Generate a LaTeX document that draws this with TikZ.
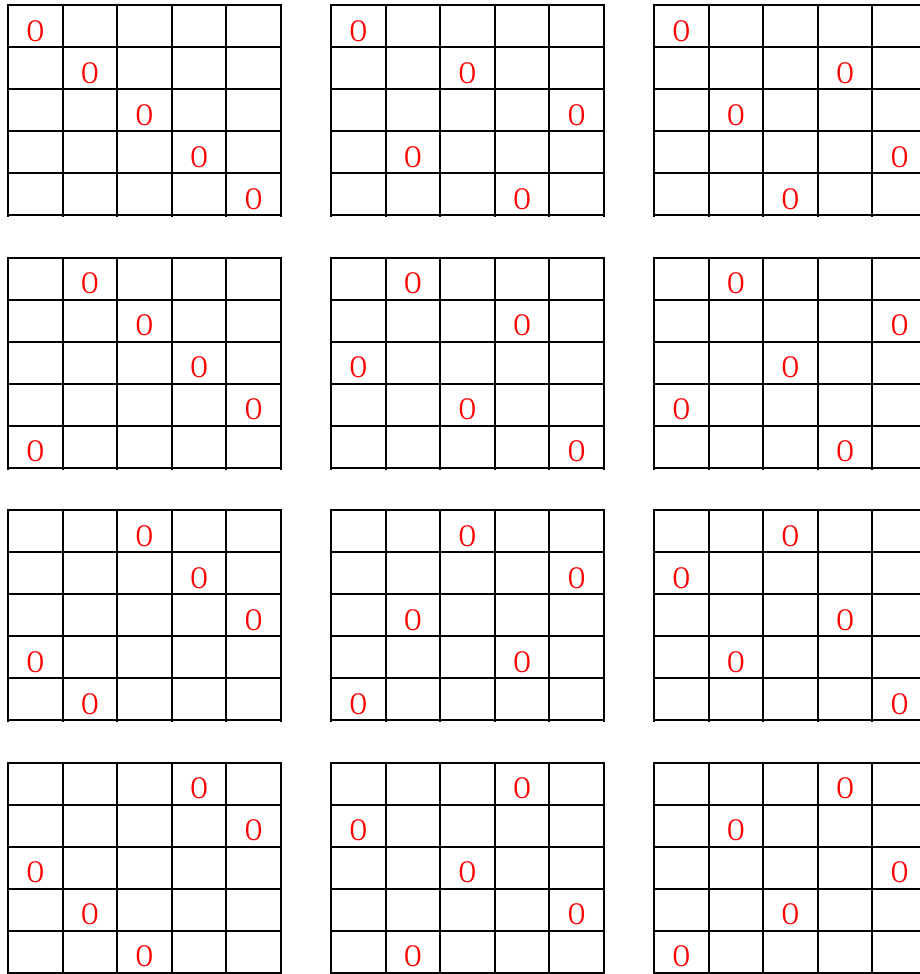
\documentclass[tikz,border=0pt]{standalone}
\usepackage{fontspec}
\setmainfont{Liberation Serif}
\newcommand{\narrowO}{\scalebox{0.75}[1]{O}}
\begin{document}
\begin{tikzpicture}[x=1pt,y=-1pt,
  gridline/.style={line width=2pt,black,line cap=rect},
  markO/.style={text=red,font=\fontsize{31.5}{31.5}\selectfont,inner sep=0pt,anchor=base}]
\useasboundingbox (0,0) rectangle (920,974);
\foreach \gr in {0,...,3} {
  \foreach \gc in {0,1,2} {
    \pgfmathsetmacro\X{8+323*\gc}
    \pgfmathsetmacro\Y{5+252.5*\gr}
    \foreach \i in {0,...,5} {
      \draw[gridline] (\X,\Y+42*\i) -- (\X+273,\Y+42*\i);
      \draw[gridline,line cap=butt] (\X+54.6*\i,\Y-1) -- (\X+54.6*\i,\Y+212);
    }
    \foreach \k in {0,...,4} {
      \pgfmathtruncatemacro\C{mod(\gr+(\gc+1)*\k,5)}
      \node[markO] (o-\gr-\gc-\k) at (\X+54.6*\C+27.3,\Y+42*\k+36.4) {\narrowO};
    }
  }
}
\end{tikzpicture}
\end{document}
